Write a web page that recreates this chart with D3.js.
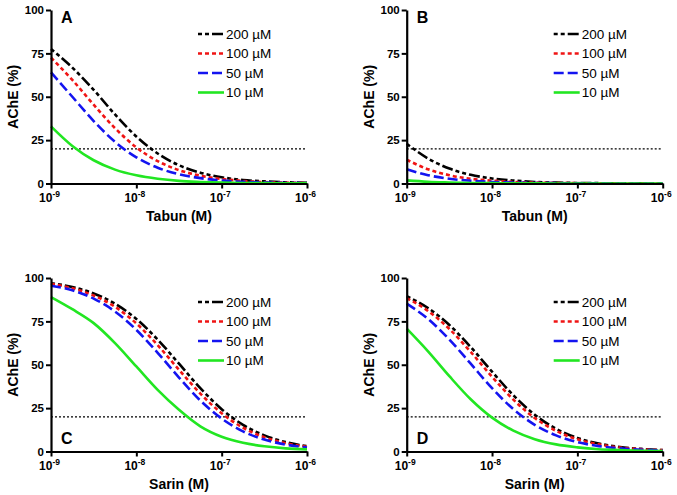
<!DOCTYPE html>
<html>
<head>
<meta charset="utf-8">
<script src="https://cdn.jsdelivr.net/npm/d3@7"></script>
<style>
  html, body { margin: 0; padding: 0; background: #fff; }
  svg { display: block; font-family: "Liberation Sans", Arial, sans-serif; }
</style>
</head>
<body>
<svg id="chart" width="677" height="495"></svg>
<script>
// ---- data ----
const logDoses = [-9, -8.75, -8.5, -8.25, -8, -7.75, -7.5, -7.25, -7, -6.75, -6.5, -6.25, -6];
const seriesNames = ["200 µM", "100 µM", "50 µM", "10 µM"];
const xTickExponents = ["-9", "-8", "-7", "-6"];
const yTicks = [0, 25, 50, 75, 100];
const thresholdLevel = 20;
const panelLetters = ["A", "B", "C", "D"];
const agentTitles = ["Tabun (M)", "Tabun (M)", "Sarin (M)", "Sarin (M)"];

const panelA_200 = [77.5, 66.8, 54.0, 39.8, 27.1, 17.3, 10.5, 6.2, 3.6, 2.0, 1.2, 0.7, 0.4];
const panelA_100 = [72.5, 59.7, 45.4, 31.9, 20.8, 12.9, 7.7, 4.5, 2.6, 1.5, 0.8, 0.5, 0.3];
const panelA_50  = [64.0, 50.0, 36.0, 24.0, 15.1, 9.1, 5.3, 3.1, 1.7, 1.0, 0.6, 0.3, 0.2];
const panelA_10  = [32.9, 21.6, 13.4, 8.0, 4.7, 2.7, 1.5, 0.9, 0.5, 0.3, 0.2, 0.1, 0.05];

const panelB_200 = [22.9, 14.4, 8.6, 5.0, 2.9, 1.7, 0.9, 0.5, 0.3, 0.2, 0.1, 0.05, 0.03];
const panelB_100 = [13.7, 8.2, 4.8, 2.7, 1.6, 0.9, 0.5, 0.3, 0.2, 0.1, 0.05, 0.03, 0.02];
const panelB_50  = [8.2, 4.8, 2.7, 1.6, 0.9, 0.5, 0.3, 0.2, 0.1, 0.05, 0.03, 0.02, 0.01];
const panelB_10  = [1.8, 1.0, 0.6, 0.3, 0.2, 0.1, 0.06, 0.03, 0.02, 0.01, 0.01, 0, 0];

const panelC_200 = [97.0, 94.8, 91.1, 85.2, 76.4, 64.5, 50.6, 36.5, 24.4, 15.4, 9.3, 5.4, 3.1];
const panelC_100 = [96.6, 94.1, 89.9, 83.4, 73.8, 61.3, 47.1, 33.4, 22.0, 13.7, 8.2, 4.8, 2.7];
const panelC_50  = [95.5, 92.9, 88.1, 80.7, 70.1, 56.9, 42.6, 29.4, 19.0, 11.6, 6.9, 4.0, 2.3];
const panelC_10  = [89.0, 82.0, 74.0, 62.5, 49.0, 35.5, 24.0, 14.5, 8.5, 5.0, 3.0, 1.8, 1.2];

const panelD_200 = [89.5, 82.7, 72.9, 60.2, 46.0, 32.4, 21.2, 13.1, 7.8, 4.6, 2.6, 1.5, 0.8];
const panelD_100 = [88.4, 81.0, 70.6, 57.4, 43.1, 29.9, 19.3, 11.9, 7.0, 4.1, 2.3, 1.3, 0.8];
const panelD_50  = [85.2, 76.4, 64.5, 50.6, 36.5, 24.4, 15.4, 9.3, 5.4, 3.1, 1.8, 1.0, 0.6];
const panelD_10  = [70.8, 57.7, 43.4, 30.1, 19.5, 12.0, 7.1, 4.1, 2.4, 1.3, 0.8, 0.4, 0.2];

const panelSeries = [
  [panelA_200, panelA_100, panelA_50, panelA_10],
  [panelB_200, panelB_100, panelB_50, panelB_10],
  [panelC_200, panelC_100, panelC_50, panelC_10],
  [panelD_200, panelD_100, panelD_50, panelD_10]
];

// ---- styles ----
const seriesColors = ["#000000", "#f01414", "#1414f0", "#22e622"];
const seriesDash = ["4,3,4,3,11,3", "4,3", "10,4", null];

const panelPos = [
  { left: 51, top: 10 },
  { left: 406.7, top: 10 },
  { left: 51, top: 278 },
  { left: 406.7, top: 278 }
];
const W = 256, H = 173.5;

const svg = d3.select("#chart");

const x = d3.scaleLog().domain([1e-9, 1e-6]).range([0, W]);
const y = d3.scaleLinear().domain([0, 100]).range([H, 0]);

const line = d3.line()
  .x(d => x(d[0]))
  .y(d => y(d[1]))
  .curve(d3.curveMonotoneX);

panelPos.forEach((p, pi) => {
  const g = svg.append("g").attr("transform", `translate(${p.left},${p.top})`);

  // threshold dotted line
  g.append("line")
    .attr("x1", x(1e-9)).attr("x2", x(1e-6) - 2)
    .attr("y1", y(thresholdLevel)).attr("y2", y(thresholdLevel))
    .attr("stroke", "#000").attr("stroke-width", 1.2)
    .attr("stroke-dasharray", "2,2");

  // curves
  panelSeries[pi].forEach((vals, si) => {
    const pts = logDoses.map((e, i) => [Math.pow(10, e), vals[i]]);
    g.append("path")
      .attr("d", line(pts))
      .attr("fill", "none")
      .attr("stroke", seriesColors[si])
      .attr("stroke-width", 2.6)
      .attr("stroke-dasharray", seriesDash[si]);
  });

  // axes
  const xAxis = d3.axisBottom(x)
    .tickValues([1e-9, 1e-8, 1e-7, 1e-6])
    .tickSize(5).tickSizeOuter(0).tickPadding(5)
    .tickFormat(() => "");
  const gx = g.append("g").attr("transform", `translate(0,${H})`).call(xAxis)
    .attr("font-family", null);
  gx.select(".domain").attr("stroke-width", 2.2);
  gx.selectAll(".tick line").attr("stroke-width", 2);
  gx.selectAll(".tick text").each(function(d, i) {
    const t = d3.select(this);
    t.attr("font-size", 12).attr("font-weight", "bold").attr("fill", "#000").attr("dx", "-2");
    t.append("tspan").text("10");
    t.append("tspan").attr("dy", -5).attr("font-size", 8.5).text(xTickExponents[i]);
  });

  const yAxis = d3.axisLeft(y)
    .tickValues(yTicks)
    .tickSize(5).tickSizeOuter(0).tickPadding(2)
    .tickFormat(d3.format("d"));
  const gy = g.append("g").call(yAxis).attr("font-family", null);
  gy.select(".domain").attr("stroke-width", 2.2);
  gy.selectAll(".tick line").attr("stroke-width", 2);
  gy.selectAll(".tick text")
    .attr("font-size", 11.5).attr("font-weight", "bold").attr("fill", "#000");

  // axis titles
  g.append("text")
    .attr("transform", `translate(-33,${H / 2}) rotate(-90)`)
    .attr("text-anchor", "middle")
    .attr("font-size", 14).attr("font-weight", "bold")
    .text("AChE (%)");
  g.append("text")
    .attr("x", W / 2).attr("y", H + 37)
    .attr("text-anchor", "middle")
    .attr("font-size", 14).attr("font-weight", "bold")
    .text(agentTitles[pi]);

  // panel letter
  const letterY = pi < 2 ? 13 : H - 8;
  g.append("text")
    .attr("x", 10).attr("y", letterY)
    .attr("font-size", 16).attr("font-weight", "bold")
    .text(panelLetters[pi]);

  // legend
  const rowY = [24, 43.5, 63, 82.5];
  seriesNames.forEach((name, si) => {
    g.append("line")
      .attr("x1", 147).attr("x2", 173)
      .attr("y1", rowY[si]).attr("y2", rowY[si])
      .attr("stroke", seriesColors[si]).attr("stroke-width", 2.6)
      .attr("stroke-dasharray", seriesDash[si]);
    g.append("text")
      .attr("x", 175).attr("y", rowY[si])
      .attr("dy", "0.36em")
      .attr("font-size", 13.5)
      .text(name);
  });
});
</script>
</body>
</html>
